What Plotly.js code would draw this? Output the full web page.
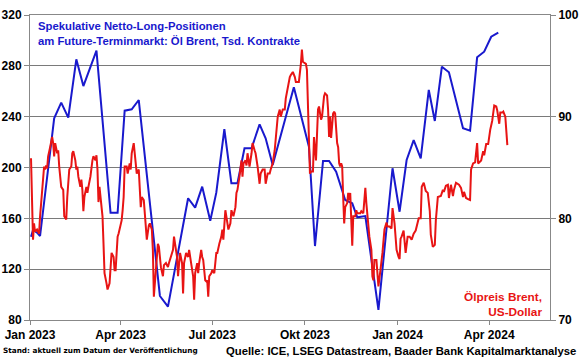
<!DOCTYPE html>
<html>
<head>
<meta charset="utf-8">
<script src="https://cdn.plot.ly/plotly-3.0.1.min.js"></script>
<style>html,body{margin:0;padding:0;background:#fff;}#chart{width:580px;height:358px;}</style>
</head>
<body>
<div id="chart"></div>
<script>
// Spekulative Netto-Long-Positionen (Tsd. Kontrakte), left axis
const positionDates = ["2023-01-02","2023-01-04","2023-01-08","2023-01-11","2023-01-25","2023-02-01","2023-02-08","2023-02-16","2023-02-23","2023-03-08","2023-03-22","2023-03-29","2023-04-05","2023-04-12","2023-04-19","2023-05-10","2023-05-18","2023-06-07","2023-06-14","2023-06-21","2023-06-29","2023-07-05","2023-07-13","2023-07-20","2023-07-26","2023-08-02","2023-08-09","2023-08-17","2023-08-23","2023-08-30","2023-09-20","2023-09-28","2023-10-05","2023-10-11","2023-10-19","2023-10-25","2023-11-01","2023-11-10","2023-11-17","2023-11-22","2023-11-30","2023-12-13","2023-12-27","2024-01-03","2024-01-10","2024-01-17","2024-01-24","2024-02-01","2024-02-07","2024-02-14","2024-02-21","2024-03-06","2024-03-13","2024-03-20","2024-03-27","2024-04-03","2024-04-10"];
const positionValues = [145.5,150.8,148.7,146.1,238.7,251,239.2,285.1,264.1,291.9,164.4,164.4,244.7,245.8,253.1,98.9,90.5,175.8,168.4,184.9,158.1,180.2,230.1,187.6,187.6,215.1,215.1,234,223,202,263.1,237.4,216.4,138.2,205.1,205.1,196.7,174.4,171.8,160.8,161.8,87.9,199.4,165.2,205.9,221.6,207.2,261,236.6,279.3,274.9,230.9,229,286.7,291.1,302.9,306.1];

// Ölpreis Brent, US-Dollar, right axis
const brentDates = ["2023-01-02","2023-01-04","2023-01-05","2023-01-06","2023-01-08","2023-01-10","2023-01-11","2023-01-13","2023-01-15","2023-01-16","2023-01-17","2023-01-18","2023-01-19","2023-01-21","2023-01-23","2023-01-24","2023-01-25","2023-01-26","2023-01-28","2023-01-29","2023-01-30","2023-02-01","2023-02-03","2023-02-04","2023-02-06","2023-02-07","2023-02-09","2023-02-11","2023-02-12","2023-02-13","2023-02-15","2023-02-16","2023-02-17","2023-02-18","2023-02-20","2023-02-21","2023-02-22","2023-02-23","2023-02-24","2023-02-26","2023-02-27","2023-02-28","2023-03-02","2023-03-04","2023-03-05","2023-03-07","2023-03-08","2023-03-09","2023-03-10","2023-03-11","2023-03-13","2023-03-14","2023-03-15","2023-03-16","2023-03-18","2023-03-19","2023-03-21","2023-03-22","2023-03-23","2023-03-25","2023-03-26","2023-03-27","2023-03-28","2023-03-29","2023-03-30","2023-04-01","2023-04-02","2023-04-03","2023-04-04","2023-04-05","2023-04-07","2023-04-08","2023-04-10","2023-04-11","2023-04-12","2023-04-14","2023-04-15","2023-04-16","2023-04-17","2023-04-19","2023-04-20","2023-04-21","2023-04-22","2023-04-24","2023-04-25","2023-04-27","2023-04-29","2023-04-30","2023-05-02","2023-05-03","2023-05-04","2023-05-06","2023-05-08","2023-05-09","2023-05-11","2023-05-13","2023-05-14","2023-05-16","2023-05-18","2023-05-19","2023-05-21","2023-05-23","2023-05-24","2023-05-25","2023-05-27","2023-05-28","2023-05-29","2023-05-30","2023-06-01","2023-06-02","2023-06-03","2023-06-05","2023-06-07","2023-06-08","2023-06-10","2023-06-12","2023-06-13","2023-06-14","2023-06-16","2023-06-17","2023-06-18","2023-06-20","2023-06-21","2023-06-22","2023-06-24","2023-06-25","2023-06-26","2023-06-27","2023-06-28","2023-06-30","2023-07-01","2023-07-03","2023-07-05","2023-07-06","2023-07-08","2023-07-10","2023-07-11","2023-07-12","2023-07-14","2023-07-15","2023-07-16","2023-07-17","2023-07-19","2023-07-20","2023-07-22","2023-07-24","2023-07-25","2023-07-26","2023-07-28","2023-07-29","2023-07-30","2023-07-31","2023-08-01","2023-08-03","2023-08-04","2023-08-05","2023-08-06","2023-08-07","2023-08-09","2023-08-10","2023-08-12","2023-08-13","2023-08-15","2023-08-17","2023-08-18","2023-08-20","2023-08-22","2023-08-23","2023-08-25","2023-08-27","2023-08-28","2023-08-30","2023-09-01","2023-09-02","2023-09-04","2023-09-06","2023-09-07","2023-09-09","2023-09-11","2023-09-12","2023-09-14","2023-09-16","2023-09-17","2023-09-19","2023-09-21","2023-09-22","2023-09-24","2023-09-25","2023-09-27","2023-09-28","2023-09-29","2023-10-01","2023-10-02","2023-10-03","2023-10-04","2023-10-05","2023-10-06","2023-10-07","2023-10-09","2023-10-10","2023-10-11","2023-10-12","2023-10-14","2023-10-15","2023-10-17","2023-10-18","2023-10-20","2023-10-21","2023-10-23","2023-10-24","2023-10-25","2023-10-26","2023-10-27","2023-10-29","2023-10-30","2023-10-31","2023-11-02","2023-11-03","2023-11-04","2023-11-05","2023-11-06","2023-11-07","2023-11-08","2023-11-09","2023-11-10","2023-11-12","2023-11-13","2023-11-14","2023-11-15","2023-11-17","2023-11-18","2023-11-20","2023-11-21","2023-11-22","2023-11-25","2023-11-26","2023-11-28","2023-11-29","2023-11-30","2023-12-01","2023-12-02","2023-12-03","2023-12-04","2023-12-06","2023-12-07","2023-12-08","2023-12-09","2023-12-11","2023-12-12","2023-12-13","2023-12-15","2023-12-16","2023-12-17","2023-12-19","2023-12-21","2023-12-22","2023-12-24","2023-12-26","2023-12-27","2023-12-29","2023-12-30","2023-12-31","2024-01-02","2024-01-03","2024-01-04","2024-01-05","2024-01-07","2024-01-08","2024-01-09","2024-01-11","2024-01-13","2024-01-15","2024-01-17","2024-01-19","2024-01-22","2024-01-24","2024-01-25","2024-01-27","2024-01-29","2024-01-31","2024-02-02","2024-02-03","2024-02-05","2024-02-07","2024-02-08","2024-02-10","2024-02-13","2024-02-15","2024-02-16","2024-02-18","2024-02-20","2024-02-21","2024-02-23","2024-02-25","2024-02-26","2024-02-28","2024-03-02","2024-03-04","2024-03-06","2024-03-07","2024-03-09","2024-03-11","2024-03-13","2024-03-14","2024-03-16","2024-03-18","2024-03-20","2024-03-21","2024-03-24","2024-03-26","2024-03-27","2024-03-29","2024-03-31","2024-04-02","2024-04-04","2024-04-06","2024-04-08","2024-04-09","2024-04-11","2024-04-12","2024-04-14","2024-04-15","2024-04-17","2024-04-19"];
const brentValues = [85.9,77.9,79.5,78.7,78.9,78.5,80.2,83.1,85.1,84.8,85.2,84.9,86.1,87.0,88.0,87.4,86.1,87.4,86.4,86.7,85.1,83.1,82.8,80.2,79.9,82.1,84.8,85.1,86.4,86.6,85.7,84.8,85.1,84.1,83.1,83.8,82.8,80.7,82.1,83.1,82.5,83.1,84.1,85.7,86.1,85.7,86.2,84.8,81.6,83.1,81.5,80.2,77.5,74.6,73.6,73.0,73.6,75.2,76.6,76.2,74.9,74.9,77.5,78.2,78.5,79.5,79.8,80.8,82.1,85.1,85.1,84.4,85.4,84.8,86.4,87.4,86.4,86.1,84.4,84.8,82.8,81.1,82.1,81.8,80.5,77.9,79.3,79.5,78.9,76.9,72.3,75.2,77.5,77.2,75.2,74.3,75.4,75.6,75.2,75.6,76.2,76.9,78.2,77.5,76.2,74.3,75.6,76.6,75.6,72.6,75.6,76.6,76.2,76.9,75.6,74.3,72.0,74.6,75.6,74.6,75.6,76.9,76.2,75.9,73.9,73.8,73.9,72.3,74.3,74.6,74.9,74.6,76.6,76.6,77.5,78.2,78.9,77.9,80.8,80.2,79.8,78.9,79.5,80.8,80.2,81.1,82.5,82.8,84.1,85.1,85.7,84.1,85.4,85.7,85.2,86.4,85.7,85.1,86.4,87.4,86.7,86.4,85.1,83.4,84.4,84.8,84.8,83.4,84.4,84.4,84.8,85.4,86.7,88.0,90.0,90.7,90.0,90.7,90.7,91.8,93.0,93.9,94.1,94.4,93.9,93.4,93.4,93.4,95.2,96.6,95.4,95.2,95.2,94.6,91.0,88.0,84.4,84.6,84.6,88.0,86.7,85.7,90.7,91.0,89.7,90.0,92.0,92.3,92.1,90.7,88.0,90.0,87.9,90.3,90.5,90.3,87.4,87.0,85.4,85.1,85.4,85.1,82.1,79.5,81.1,81.5,82.5,81.8,82.5,77.3,80.2,80.2,80.8,80.5,80.5,80.7,80.5,81.8,83.0,81.5,80.2,78.9,78.2,76.9,74.3,73.9,75.9,75.9,73.9,73.3,74.9,76.2,76.6,78.9,79.6,79.2,79.2,79.0,81.0,79.5,77.5,76.9,76.2,76.0,78.0,78.2,78.8,77.5,76.6,78.2,78.2,77.9,78.5,78.8,80.0,80.0,83.1,83.5,82.7,82.5,80.7,78.4,77.2,77.4,79.8,82.1,82.2,82.8,82.6,83.2,83.3,82.0,83.3,82.2,82.8,83.5,83.3,83.0,82.1,82.6,82.0,81.9,81.8,84.8,85.4,85.5,87.4,85.4,85.7,86.6,86.2,87.3,87.3,88.7,89.6,91.1,91.0,90.6,89.3,90.4,90.4,90.5,90.0,87.2];

// Axis ticks
const xTickVals = ["2023-01-01","2023-04-01","2023-07-01","2023-10-01","2024-01-01","2024-04-01"];
const xTickText = ["Jan 2023","Apr 2023","Jul 2023","Okt 2023","Jan 2024","Apr 2024"];
const leftTicks = [80,120,160,200,240,280,320];
const rightTicks = [70,80,90,100];

const BLUE = 'rgb(25,25,205)';
const RED = 'rgb(232,20,20)';
const tickFont = {family:'"Liberation Sans", Arial, sans-serif', size:12, color:'#000', weight:'bold'};

const traces = [
  {x: brentDates, y: brentValues, yaxis:'y2', type:'scatter', mode:'lines',
   line:{color:RED, width:2}, hoverinfo:'skip'},
  {x: positionDates, y: positionValues, type:'scatter', mode:'lines',
   line:{color:BLUE, width:2}, hoverinfo:'skip'}
];

const layout = {
  width:580, height:358,
  margin:{l:30, r:30, t:15, b:38},
  paper_bgcolor:'#fff', plot_bgcolor:'#fff',
  showlegend:false,
  xaxis:{type:'date', range:['2023-01-01','2024-05-31 09:00'],
    tickvals:xTickVals, ticktext:xTickText, tickfont:tickFont,
    showgrid:false, zeroline:false, showline:true, linecolor:'#888', linewidth:1,
    mirror:true, ticks:'outside', ticklen:4, tickcolor:'#888'},
  yaxis:{range:[80,320], tickvals:leftTicks, tickfont:tickFont,
    showgrid:true, gridcolor:'#7a7a7a', gridwidth:1, zeroline:false,
    showline:true, linecolor:'#888', linewidth:1, ticks:'outside', ticklen:5, tickcolor:'#888'},
  yaxis2:{range:[70,100], tickvals:rightTicks, tickfont:tickFont, overlaying:'y', side:'right',
    showgrid:false, zeroline:false, showline:true, linecolor:'#888', linewidth:1,
    ticks:'outside', ticklen:5, tickcolor:'#888'},
  annotations:[
    {xref:'paper', yref:'paper', x:0.011, y:1, xanchor:'left', yanchor:'top', yshift:-3,
     align:'left', showarrow:false,
     text:'Spekulative Netto-Long-Positionen<br>am Future-Terminmarkt: Öl Brent, Tsd. Kontrakte',
     font:{family:'"Liberation Sans", Arial, sans-serif', size:11.3, color:BLUE, weight:'bold'}},
    {xref:'paper', yref:'paper', x:0.988, y:0, xanchor:'right', yanchor:'bottom', yshift:-1,
     align:'right', showarrow:false, text:'Ölpreis Brent,<br>US-Dollar',
     font:{family:'"Liberation Sans", Arial, sans-serif', size:11.8, color:RED, weight:'bold'}},
    {xref:'paper', yref:'paper', x:-0.055, y:-0.1, xanchor:'left', yanchor:'middle',
     showarrow:false, text:'Stand: aktuell zum Datum der Veröffentlichung',
     font:{family:'"DejaVu Sans", Verdana, sans-serif', size:7.3, color:'#000', weight:'bold'}},
    {xref:'paper', yref:'paper', x:1.054, y:-0.1, xanchor:'right', yanchor:'middle',
     showarrow:false, text:'Quelle: ICE, LSEG Datastream, Baader Bank Kapitalmarktanalyse',
     font:{family:'"Liberation Sans", Arial, sans-serif', size:11.3, color:'#000', weight:'bold'}}
  ]
};

Plotly.newPlot('chart', traces, layout, {displayModeBar:false, staticPlot:true});
</script>
</body>
</html>
